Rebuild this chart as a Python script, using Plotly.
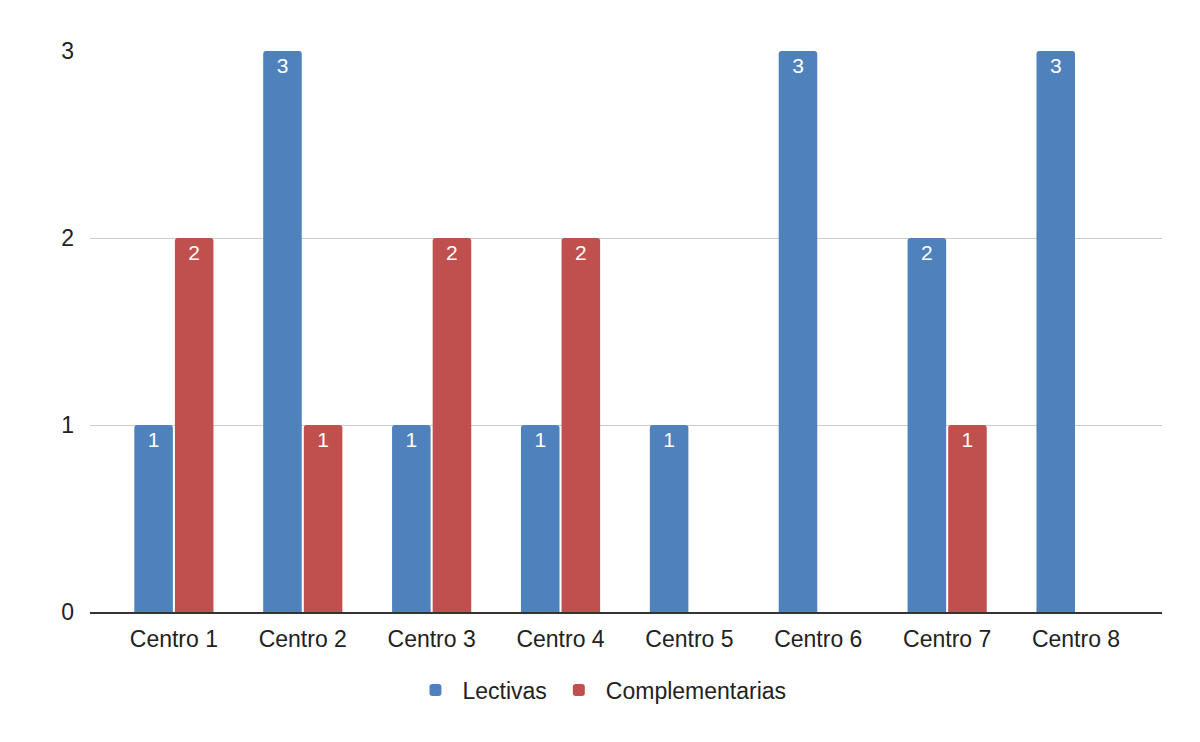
import plotly.graph_objects as go

categories = ["Centro 1", "Centro 2", "Centro 3", "Centro 4", "Centro 5", "Centro 6", "Centro 7", "Centro 8"]
lectivas = [1, 3, 1, 1, 1, 3, 2, 3]
complementarias = [2, 1, 2, 2, None, None, 1, None]
y_ticks = [0, 1, 2, 3]

FONT = "Liberation Sans, Arial, sans-serif"

fig = go.Figure()
fig.add_trace(go.Bar(
    name="Lectivas", x=categories, y=lectivas,
    marker=dict(color="#4F81BD", cornerradius=3, line=dict(width=0)),
    text=lectivas, textposition="inside", insidetextanchor="end",
    textfont=dict(color="white", size=21, family=FONT),
    textangle=0, cliponaxis=False,
))
fig.add_trace(go.Bar(
    name="Complementarias", x=categories, y=complementarias,
    marker=dict(color="#C0504D", cornerradius=3, line=dict(width=0)),
    text=[v if v is not None else "" for v in complementarias],
    textposition="inside", insidetextanchor="end",
    textfont=dict(color="white", size=21, family=FONT),
    textangle=0, cliponaxis=False,
))

fig.update_layout(
    width=1200, height=742,
    paper_bgcolor="white", plot_bgcolor="white",
    margin=dict(l=82, r=46, t=43, b=138, autoexpand=False),
    barmode="group", bargap=0.37, bargroupgap=0.05,
    font=dict(family=FONT, size=23, color="#222222"),
    showlegend=True,
    legend=dict(orientation="h", x=0.4757, xanchor="center",
                y=-0.139, yanchor="middle", itemwidth=44,
                font=dict(size=23, color="#222222", family=FONT),
                traceorder="normal"),
    uniformtext=dict(mode=False),
)
fig.update_xaxes(
    range=[-0.651, 7.667], showgrid=False, showline=True, linecolor="#333333", linewidth=1.5,
    ticks="", tickangle=0, automargin=False, ticklabelstandoff=6,
    tickfont=dict(size=23, color="#222222"),
)
fig.update_yaxes(
    range=[0, 3], tickvals=y_ticks, showgrid=True, gridcolor="#CCCCCC", gridwidth=1,
    zeroline=False, showline=False, ticks="", ticklabelstandoff=15, automargin=False,
    tickfont=dict(size=23, color="#222222"),
)

fig.write_html("out.html")
